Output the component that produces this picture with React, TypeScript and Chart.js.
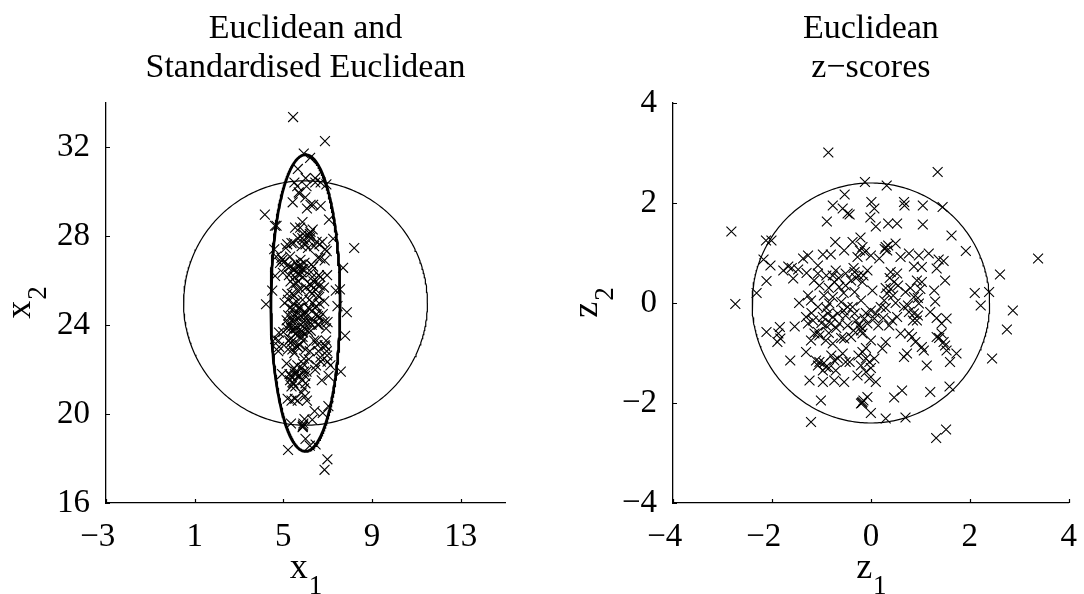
import { useEffect, useRef } from 'react';
import { Chart, registerables } from 'chart.js';

Chart.register(...registerables);

// Standardised scores of the sample (z1, z2), one entry per observation.
const z1 = [
  -0.86, -2.82, -0.53, -0.77, -0.57, -0.47, -0.89, -2.12, -2.01, -0.72,
  -0.54, -0.97, -0.81, -1.27, -2.17, -2.03, -1.67, -1.77, -1.47, -1.57,
  -1.07, -1.07, -0.71, -0.77, -0.51, -1.37, -2.11, -2.31, -1.04, -0.74,
  -0.64, -0.51, -1.45, -1.27, -1.21, -0.77, -0.6, -2.74,
  1.35, -0.12, 0.32, 0.01, 0.07, 0.67, 0.68, 1.05, 1.45, -0.43,
  -0.01, 0.1, 0.35, 0.53, 1.05, 1.63, 1.92, 3.38, 2.61, -0.21,
  -0.37, -0.17, 0.3, 0.33, 0.5, 0.0, 0.17, -0.27, 0.77, 0.97,
  1.17, 1.37, 1.47, 0.6, 0.87, 1.03, 1.33, -0.33, -0.07, 0.4,
  0.53, -0.4, -0.17, 0.47, 0.93, 1.03, 1.5, 1.28, -0.33, 0.03,
  0.33, 0.7, 0.87, 2.1, 2.39, 1.3, -0.2, 0.27, 0.5, 2.22,
  -2.11, -1.84, -1.87, -1.83, -1.89, -1.54, -1.63, -1.31, -1.27, -1.17,
  -1.07, -0.97, -0.87, -0.77, -0.67, -0.91, -0.81, -0.64, -0.47, -1.07,
  -1.14, -1.21, -1.04, -0.91, -0.77, -0.54, -1.31, -1.11, -1.04, -1.07,
  -0.97, -0.91, -0.74, -0.67, -0.57, -0.51, -0.71, -1.24, -0.97, -0.74,
  -0.54, -1.01, -1.21, -0.84, -0.47, -0.51,
  2.87, 2.75, 2.45, 1.73, 1.6, 1.53, 1.13, 0.67, 0.73, 1.07,
  1.03, 0.83, 0.77, 0.9, 1.33, 1.43, 1.47, 1.53, 1.43, 1.33,
  1.2, 0.97, 0.87, 0.93, 0.77, 0.67, 0.43, 0.37, 0.53, 0.6,
  0.3, 0.23, 0.2, 0.1, 0.07, -0.07, -0.13, -0.2, -0.17, -0.33,
  -0.37, -0.4, 0.0, -0.17, -0.1, 0.07, -0.03, -0.43, -0.27, -0.1,
  -0.03, 0.1, -0.07, -0.17, -0.2, 0.0, 0.3, 0.7, 0.47, 0.63,
  1.2, 1.59, 1.32, 1.52, -0.2,
  // overlapping observations in the dense core
  -0.22, -0.12, 0.28, 0.35, -0.35, -0.25, -0.3, -0.15, 0.3, 0.4,
  0.45, 0.55, 0.38, 0.8, 1.0, 0.95, -0.3, -0.25, -0.1, 0.0,
  0.15, 0.25, -0.35, 0.3, -0.25, -0.2, 0.0, -0.1, -0.15, -0.18,
  0.75, 0.85, 0.95, 1.38, 1.5, -1.2, -1.0, -0.85, -0.7, -0.6,
  -0.9, -0.55, -0.95, -0.85, -0.8, -1.6, -1.3, -0.9, -0.85, -0.65,
  -0.55, -1.15, -0.95,
];

const z2 = [
  3.01, 1.43, 2.17, 1.95, 1.89, 1.79, 1.63, 1.25, 1.25, 1.22,
  1.05, 0.97, 0.97, 0.95, 0.87, 0.75, 0.73, 0.65, 0.67, 0.49,
  0.75, 0.59, 0.65, 0.55, 0.59, 0.89, 0.44, 0.2, 0.35, 0.42,
  0.32, 0.35, 0.0, 0.15, 0.05, 0.12, 0.02, -0.02,
  2.62, 2.42, 2.35, 2.02, 1.89, 2.02, 1.95, 1.95, 1.92, 1.77,
  1.71, 1.53, 1.59, 1.59, 1.57, 1.35, 1.04, 0.89, 0.57, 1.31,
  1.22, 1.12, 1.12, 1.05, 1.19, 0.95, 0.89, 0.92, 0.99, 0.95,
  0.99, 0.87, 0.84, 0.92, 0.73, 0.72, 0.69, 0.62, 0.65, 0.62,
  0.59, 0.45, 0.42, 0.42, 0.45, 0.42, 0.45, 0.25, 0.22, 0.25,
  0.19, 0.22, 0.12, 0.2, 0.22, 0.03, 0.05, 0.05, 0.0, -0.05,
  -0.58, -0.48, -0.61, -0.71, -0.78, -0.47, -1.15, -0.28, -0.41, -0.35,
  -0.08, -0.28, -0.21, -0.28, -0.21, -0.45, -0.41, -0.41, -0.45, -0.58,
  -0.61, -0.75, -0.65, -0.75, -0.81, -0.71, -0.98, -1.15, -1.18, -1.25,
  -1.35, -1.28, -1.15, -1.11, -1.01, -1.18, -1.35, -1.55, -1.58, -1.55,
  -1.58, -1.95, -2.38, -0.01, -0.08, -0.25,
  -0.15, -0.53, -1.11, -1.01, -1.18, -0.95, -1.25, -1.08, -1.01, -0.95,
  -0.88, -0.68, -0.61, -0.78, -0.68, -0.61, -0.78, -0.31, -0.41, -0.3,
  -0.18, -0.01, -0.21, -0.35, -0.18, -0.08, -0.35, -0.45, -0.28, -0.61,
  -0.78, -0.91, -0.08, -0.21, -0.31, -0.41, -0.31, -0.55, -0.61, -0.21,
  -0.08, -0.68, -0.75, -0.98, -1.11, -1.11, -1.18, -1.18, -1.45, -1.38,
  -1.51, -1.58, -1.88, -1.98, -2.01, -2.2, -2.31, -2.29, -1.89, -1.75,
  -1.78, -1.67, -2.7, -2.53, -0.48,
  // overlapping observations in the dense core
  1.05, 1.02, 1.08, 1.15, 0.7, 0.55, 0.5, 0.55, 0.3, 0.28,
  0.15, 0.35, 0.5, 0.3, 0.28, 0.1, -0.35, -0.45, -0.2, -0.15,
  -0.45, -0.3, -0.55, -0.1, -1.05, -1.25, -1.3, -0.9, -1.95, -2.0,
  -0.05, -0.35, -0.25, -0.7, -0.85, -0.2, -0.4, -0.6, -0.5, -0.7,
  -0.1, -0.15, -1.2, -1.3, -1.05, 0.7, 0.6, 0.55, 0.3, 0.5,
  0.2, 0.45, 0.15,
];

// Sample mean and standard deviation of the raw variables
const MEAN_X1 = 6.0;
const MEAN_X2 = 25.0;
const SD_X1 = 0.65;
const SD_X2 = 2.78;

// Distance thresholds
const EUCLID_RADIUS = 5.5; // raw units
const STD_RADIUS = 2.4; // standardised units

// Axis ranges and ticks
const X1_RANGE = [-3, 15];
const X2_RANGE = [16, 34];
const Z_RANGE = [-4, 4];
const x1Ticks = [-3, 1, 5, 9, 13];
const x2Ticks = [16, 20, 24, 28, 32];
const zTicks = [-4, -2, 0, 2, 4];

const leftTitle = ['Euclidean and', 'Standardised Euclidean'];
const rightTitle = ['Euclidean', 'z\u2212scores'];
const leftXLabel = ['x', '1'];
const leftYLabel = ['x', '2'];
const rightXLabel = ['z', '1'];
const rightYLabel = ['z', '2'];

const SERIF = '"Liberation Serif", "Times New Roman", Times, serif';
const TICK_SIZE = 33;
const TITLE_SIZE = 34;
const LABEL_SIZE = 36;
const SUB_SIZE = 27;
const SUB_DROP = 16;
const TICK_LEN = 4;
const PAGE_H = 594;
const PLOT_TOP = 103;
const PLOT_BOTTOM = 503;
const RING_STEPS = 360;

const fmtTick = (v: number) => (v < 0 ? '\u2212' + Math.abs(v) : String(v));
// On the horizontal axes the digits sit on the tick and the minus sign hangs to the left
const fmtXTick = (v: number) => (v < 0 ? fmtTick(v) + '\u2002' : fmtTick(v));

function ring(cx: number, cy: number, rx: number, ry: number) {
  const pts: { x: number; y: number }[] = [];
  for (let i = 0; i <= RING_STEPS; i++) {
    const t = (i / RING_STEPS) * Math.PI * 2;
    pts.push({ x: cx + rx * Math.cos(t), y: cy + ry * Math.sin(t) });
  }
  return pts;
}

function drawSubLabel(ctx: CanvasRenderingContext2D, label: string[], cx: number, base: number) {
  const [main, sub] = label;
  ctx.font = `${LABEL_SIZE}px ${SERIF}`;
  const wMain = ctx.measureText(main).width;
  ctx.font = `${SUB_SIZE}px ${SERIF}`;
  const wSub = ctx.measureText(sub).width;
  const start = cx - (wMain + wSub) / 2;
  ctx.textAlign = 'left';
  ctx.textBaseline = 'alphabetic';
  ctx.font = `${LABEL_SIZE}px ${SERIF}`;
  ctx.fillText(main, start, base);
  ctx.font = `${SUB_SIZE}px ${SERIF}`;
  ctx.fillText(sub, start + wMain + 1, base + SUB_DROP);
}

// Titles, subscripted axis labels and inward tick marks
const panelDecor = {
  id: 'panelDecor',
  afterDraw(chart: any, _args: any, opts: any) {
    const { ctx, chartArea: a } = chart;
    const xs = chart.scales.x;
    const ys = chart.scales.y;
    ctx.save();
    ctx.strokeStyle = '#000';
    ctx.lineWidth = 1.2;
    ctx.beginPath();
    xs.ticks.forEach((t: any) => {
      const p = Math.round(xs.getPixelForValue(t.value)) + 0.5;
      ctx.moveTo(p, a.bottom);
      ctx.lineTo(p, a.bottom - TICK_LEN);
    });
    ys.ticks.forEach((t: any) => {
      const p = Math.round(ys.getPixelForValue(t.value)) + 0.5;
      ctx.moveTo(a.left, p);
      ctx.lineTo(a.left + TICK_LEN, p);
    });
    ctx.stroke();

    ctx.fillStyle = '#000';
    const cx = (a.left + a.right) / 2;
    ctx.font = `${TITLE_SIZE}px ${SERIF}`;
    ctx.textAlign = 'center';
    ctx.textBaseline = 'alphabetic';
    (opts.title as string[]).forEach((line, i) => ctx.fillText(line, cx, 38 + i * 39));

    drawSubLabel(ctx, opts.xLabel, cx, a.bottom + 75);

    ctx.translate(a.left - 76, (a.top + a.bottom) / 2);
    ctx.rotate(-Math.PI / 2);
    drawSubLabel(ctx, opts.yLabel, 0, 0);
    ctx.restore();
  },
};

type PanelSpec = {
  pageLeft: number;
  width: number;
  plotLeft: number;
  plotRight: number;
  xRange: number[];
  yRange: number[];
  xTicks: number[];
  yTicks: number[];
  points: { x: number; y: number }[];
  curves: { data: { x: number; y: number }[]; width: number }[];
  title: string[];
  xLabel: string[];
  yLabel: string[];
};

function axis(
  range: number[],
  ticks: number[],
  fit: (s: any) => void,
  padding: number,
  fmt: (v: number) => string,
) {
  return {
    type: 'linear' as const,
    min: range[0],
    max: range[1],
    grid: { display: false },
    border: { display: true, color: '#000', width: 1.3 },
    ticks: {
      color: '#000',
      font: { family: SERIF, size: TICK_SIZE },
      padding,
      autoSkip: false,
      maxRotation: 0,
      callback: (v: any) => fmt(Number(v)),
    },
    afterBuildTicks: (s: any) => {
      s.ticks = ticks.map((value) => ({ value }));
    },
    afterFit: fit,
  };
}

function buildConfig(p: PanelSpec): any {
  const localLeft = p.plotLeft - p.pageLeft;
  const localRight = p.plotRight - p.pageLeft;
  return {
    type: 'scatter',
    data: {
      datasets: [
        ...p.curves.map((c, i) => ({
          data: c.data,
          showLine: true,
          fill: false,
          borderColor: '#000',
          borderWidth: c.width,
          pointRadius: 0,
          tension: 0,
          order: i,
        })),
        {
          data: p.points,
          pointStyle: 'crossRot',
          pointRadius: 7,
          pointBorderWidth: 1.1,
          pointBorderColor: '#000',
          pointBackgroundColor: 'transparent',
          showLine: false,
          order: 10,
        },
      ],
    },
    options: {
      animation: false,
      responsive: false,
      events: [],
      layout: { padding: { top: PLOT_TOP, right: p.width - localRight, left: 0, bottom: 0 } },
      plugins: {
        legend: { display: false },
        tooltip: { enabled: false },
        panelDecor: { title: p.title, xLabel: p.xLabel, yLabel: p.yLabel },
      },
      scales: {
        x: axis(p.xRange, p.xTicks, (s: any) => { s.height = PAGE_H - PLOT_BOTTOM; }, 7, fmtXTick),
        y: axis(p.yRange, p.yTicks, (s: any) => { s.width = localLeft; }, 8, fmtTick),
      },
    },
    plugins: [panelDecor],
  };
}

const rawPoints = z1.map((v, i) => ({ x: MEAN_X1 + SD_X1 * v, y: MEAN_X2 + SD_X2 * z2[i] }));
const zPoints = z1.map((v, i) => ({ x: v, y: z2[i] }));

const leftPanel: PanelSpec = {
  pageLeft: 0,
  width: 540,
  plotLeft: 106,
  plotRight: 505,
  xRange: X1_RANGE,
  yRange: X2_RANGE,
  xTicks: x1Ticks,
  yTicks: x2Ticks,
  points: rawPoints,
  curves: [
    { data: ring(MEAN_X1, MEAN_X2, SD_X1 * STD_RADIUS, SD_X2 * STD_RADIUS), width: 2.8 },
    { data: ring(MEAN_X1, MEAN_X2, EUCLID_RADIUS, EUCLID_RADIUS), width: 1.2 },
  ],
  title: leftTitle,
  xLabel: leftXLabel,
  yLabel: leftYLabel,
};

const rightPanel: PanelSpec = {
  pageLeft: 540,
  width: 544,
  plotLeft: 673,
  plotRight: 1073,
  xRange: Z_RANGE,
  yRange: Z_RANGE,
  xTicks: zTicks,
  yTicks: zTicks,
  points: zPoints,
  curves: [{ data: ring(0, 0, STD_RADIUS, STD_RADIUS), width: 1.2 }],
  title: rightTitle,
  xLabel: rightXLabel,
  yLabel: rightYLabel,
};

function Panel({ spec }: { spec: PanelSpec }) {
  const ref = useRef<HTMLCanvasElement>(null);
  useEffect(() => {
    if (!ref.current) return;
    const chart = new Chart(ref.current, buildConfig(spec));
    return () => chart.destroy();
  }, [spec]);
  return (
    <canvas
      ref={ref}
      width={spec.width}
      height={PAGE_H}
      style={{ position: 'absolute', left: spec.pageLeft, top: 0, width: spec.width, height: PAGE_H }}
    />
  );
}

export default function App() {
  return (
    <div style={{ position: 'absolute', left: 0, top: 0, width: 1084, height: PAGE_H, background: '#fff', overflow: 'hidden' }}>
      <Panel spec={leftPanel} />
      <Panel spec={rightPanel} />
    </div>
  );
}
